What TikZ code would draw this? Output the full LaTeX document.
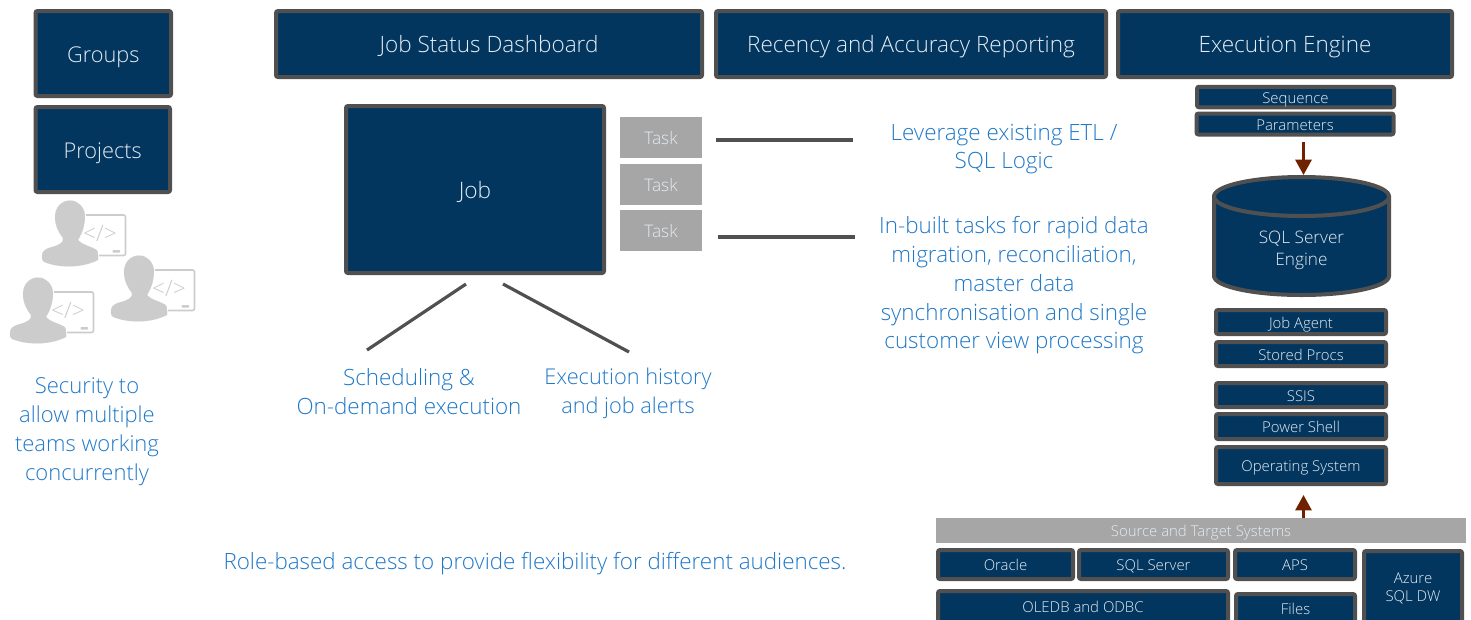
\documentclass[tikz,border=0pt]{standalone}
\usepackage{fontspec}
\setmainfont{Open Sans Light}
\usetikzlibrary{arrows.meta}

\definecolor{jobblue}{HTML}{03365F}
\definecolor{edgegrey}{HTML}{505050}
\definecolor{taskgrey}{HTML}{A6A6A6}
\definecolor{notesblue}{HTML}{1F78C8}
\definecolor{flowred}{HTML}{702200}
\definecolor{boxtext}{HTML}{E4ECF3}
\definecolor{icongrey}{HTML}{CCCCCC}

\tikzset{
  boxsize/.style 2 args={minimum width=#1*0.75pt,minimum height=#2*0.75pt},
  darkbox/.style={draw=edgegrey,fill=jobblue,line width=3pt,rounded corners=1.5pt,inner sep=0pt,outer sep=0pt,text=boxtext,align=center},
  bigbox/.style={darkbox,text height=12.8pt,text depth=0pt,font=\fontsize{16.9}{22}\selectfont},
  smallbox/.style={darkbox,text height=9pt,text depth=0pt,font=\fontsize{11.2}{14}\selectfont},
  stackbox/.style={darkbox,font=\fontsize{11.2}{14}\selectfont},
  greybox/.style={fill=taskgrey,inner sep=0pt,outer sep=0pt,text=boxtext,text height=10pt,text depth=0pt,font=\fontsize{13}{16}\selectfont},
  notes/.style={text=notesblue,align=center,inner sep=0pt,font=\fontsize{16.8}{21.6}\selectfont},
  joinline/.style={draw=edgegrey,line width=2.4pt},
  flowarrow/.style={draw=flowred,line width=2.2pt,-{Triangle[length=11.5pt,width=12pt]}},
  coder/.pic={
    \begin{scope}[yscale=-1]
    %Shape: screen
    \draw [icongrey,fill=white,line width=1.2pt,rounded corners=1.5pt] (78,215) -- (125.5,215) -- (125.5,255.5) -- (78,255.5) -- cycle;
    \fill [icongrey,rounded corners=0.5pt] (112.7,250) rectangle (120,252.7);
    \node (-code) [text=icongrey,inner sep=0pt,font=\fontsize{17}{17}\selectfont] at (100,233.5) {</>};
    %Shape: person
    \draw [icongrey,fill=icongrey,line width=0.01pt,preaction={draw=white,line width=1.5pt}] (70,200.5) .. controls (62,200.5) and (55,207) .. (55,217) .. controls (55,226) and (59,233) .. (63,238) .. controls (64,242) and (60,245) .. (52,247) .. controls (45,249) and (42,251) .. (42,256) .. controls (41.5,260) and (43,262) .. (47,263) .. controls (58,267) and (80,269) .. (98,260) .. controls (98,255) and (98.5,251) .. (96,249.5) .. controls (90,246) and (82,245) .. (78,240) .. controls (83,232) and (85,224) .. (85,215) .. controls (84,207) and (78,200.5) .. (70,200.5) -- cycle;
    \end{scope}
  }
}

\begin{document}
\begin{tikzpicture}[x=0.75pt,y=0.75pt,yscale=-1,xscale=1]
\useasboundingbox (0,0) rectangle (1471,619);

% Left column
\node (groups) [bigbox,boxsize={135.5}{85},font=\fontsize{16.3}{20}\selectfont] at (103.25,53.5) {Groups};
\node (projects) [bigbox,boxsize={134.5}{85},font=\fontsize{16.3}{20}\selectfont] at (102.75,149.5) {Projects};
\pic (coderA) at (0,0) {coder};
\pic (coderB) at (-32,77) {coder};
\pic (coderC) at (69,55) {coder};
\node (security) [notes,font=\fontsize{16.5}{21.6}\selectfont] at (87,431.5) {Security to\\allow multiple\\teams working\\concurrently};

% Top row
\node (dashboard) [bigbox,boxsize={426}{66}] at (489,44) {Job Status Dashboard};
\node (recency) [bigbox,boxsize={390}{66}] at (911,44) {Recency and Accuracy Reporting};
\node (execEngine) [bigbox,boxsize={334}{66}] at (1285,44) {Execution Engine};

% Job and tasks
\node (job) [bigbox,boxsize={258}{167},font=\fontsize{17}{20}\selectfont] at (475,189.5) {Job};
\node (taskA) [greybox,boxsize={82}{41}] at (661,137.5) {Task};
\node (taskB) [greybox,boxsize={82}{41}] at (661,184.5) {Task};
\node (taskC) [greybox,boxsize={82}{41}] at (661,230.5) {Task};

\node (leverage) [notes] at (1004,149) {Leverage existing ETL /\\SQL Logic};
\node (inbuilt) [notes] at (1014,285.5) {In-built tasks for rapid data\\migration, reconciliation,\\master data\\synchronisation and single\\customer view processing};
\node (scheduling) [notes] at (409,391.5) {Scheduling \&\\On-demand execution};
\node (history) [notes,font=\fontsize{16.3}{21.6}\selectfont] at (628,393) {Execution history\\and job alerts};
\node (role) [notes] at (535,563.5) {Role-based access to provide flexibility for different audiences.};

\coordinate (leverageEnd) at (853,140);
\coordinate (leverageStart) at (716,140);
\coordinate (inbuiltEnd) at (855,237);
\coordinate (inbuiltStart) at (718,237);
\coordinate (jobLeft) at (466,284);
\coordinate (jobRight) at (503,284);
\coordinate (schedEnd) at (367,350);
\coordinate (histEnd) at (629,352);
\draw [joinline] (leverageStart) -- (leverageEnd);
\draw [joinline] (inbuiltStart) -- (inbuiltEnd);
\draw [joinline] (jobLeft) -- (schedEnd);
\draw [joinline] (jobRight) -- (histEnd);

% Engine stack
\node (sequence) [smallbox,boxsize={197}{20.5}] at (1295.5,97) {Sequence};
\node (parameters) [smallbox,boxsize={197}{21}] at (1295,124) {Parameters};
%Shape: cylinder
\draw [draw=edgegrey,fill=jobblue,line width=3pt] (1214,196.5) -- (1214,276) arc [start angle=180,end angle=0,x radius=87.5,y radius=19] -- (1389,196.5) arc [start angle=0,end angle=-180,x radius=87.5,y radius=19.5] -- cycle;
\draw [draw=edgegrey,line width=3pt] (1214,196.5) arc [start angle=180,end angle=0,x radius=87.5,y radius=19.5];
\node (sqlname) [text=boxtext,align=center,inner sep=0pt,font=\fontsize{12.9}{16.5}\selectfont] at (1301.5,250) {SQL Server\\Engine};
\node (agent) [smallbox,boxsize={170}{24}] at (1301,322) {Job Agent};
\node (procs) [smallbox,boxsize={170}{24}] at (1301,354) {Stored Procs};
\node (ssis) [smallbox,boxsize={170}{24}] at (1301,395) {SSIS};
\node (shell) [smallbox,boxsize={170}{25}] at (1301,426.5) {Power Shell};
\node (opsys) [smallbox,boxsize={170}{37}] at (1301,465.5) {Operating System};

% Sources
\node (source) [greybox,boxsize={530}{25},text height=9pt,font=\fontsize{11.2}{14}\selectfont] at (1201,530.5) {Source and Target Systems};
\node (oracle) [smallbox,boxsize={135}{29}] at (1005.5,564.5) {Oracle};
\node (sqlserver) [smallbox,boxsize={149}{29}] at (1153.5,564.5) {SQL Server};
\node (aps) [smallbox,boxsize={120}{29}] at (1295,564.5) {APS};
\node (azure) [stackbox,boxsize={98}{75}] at (1413,588.5) {Azure\\SQL DW};
\node (oledb) [smallbox,boxsize={290}{31}] at (1083,606.5) {OLEDB and ODBC};
\node (files) [smallbox,boxsize={119}{28}] at (1295.5,608) {Files};

\coordinate (paramFoot) at (1303.5,142);
\coordinate (cylTop) at (1303.5,175);
\coordinate (opsysTip) at (1303.5,495);
\draw [flowarrow] (paramFoot) -- (cylTop);
\draw [flowarrow] (source.north -| opsysTip) -- (opsysTip);

\end{tikzpicture}
\end{document}
